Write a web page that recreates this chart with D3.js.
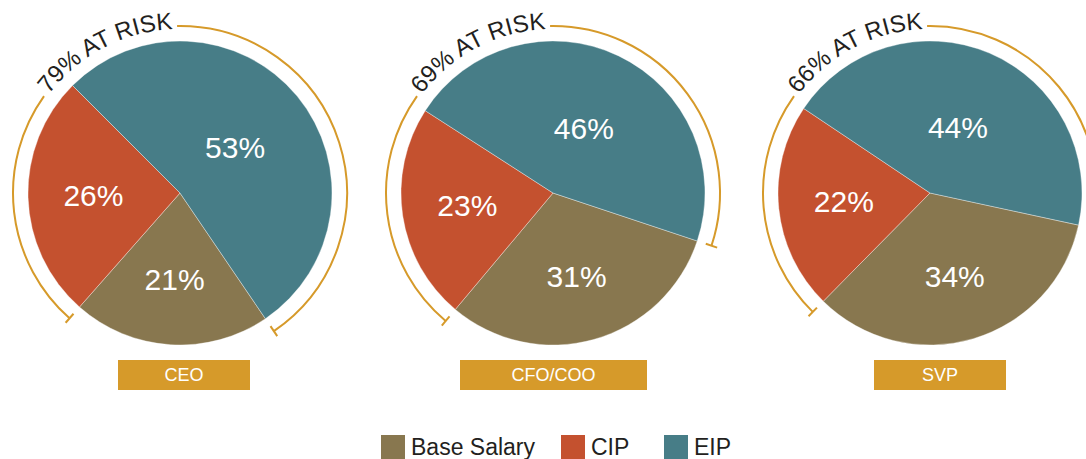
<!DOCTYPE html>
<html>
<head>
<meta charset="utf-8">
<script src="https://cdn.jsdelivr.net/npm/d3@7"></script>
<style>
  body { margin: 0; background: #fff; }
  svg { display: block; font-family: "Liberation Sans", Arial, sans-serif; }
</style>
</head>
<body>
<svg id="chart"></svg>
<script>
var roles = ['CEO', 'CFO/COO', 'SVP']
var series = ['Base Salary', 'CIP', 'EIP']
var baseSalary = [21, 31, 34]
var cip = [26, 23, 22]
var eip = [53, 46, 44]
var atRisk = [79, 69, 66]

var width = 1086, height = 459
var colors = ['#88774f', '#c4512f', '#477d87']
var gold = '#d69a2a'

// layout per pie: centre x, rotation of the base salary slice (deg), role box
var pieX = [180, 553, 930]
var pieRot = [145.8, 108.4, 102.2]
var boxX = [184, 553.5, 940]
var boxW = [132, 187, 132]
var pieY = 193, R = 152, riskR = 167, textR = 164

var svg = d3.select('#chart')
  .attr('width', width)
  .attr('height', height)

var defs = svg.append('defs')

var rad = a => a * Math.PI / 180

// open circular arc, angles in radians clockwise from 12 o'clock
function arcPath(r, a0, a1) {
  var large = (a1 - a0) > Math.PI ? 1 : 0
  return 'M' + (r * Math.sin(a0)) + ',' + (-r * Math.cos(a0)) +
    'A' + r + ',' + r + ' 0 ' + large + ' 1 ' + (r * Math.sin(a1)) + ',' + (-r * Math.cos(a1))
}

var arc = d3.arc().innerRadius(0).outerRadius(R)

roles.forEach((role, i) => {
  var values = [baseSalary[i], cip[i], eip[i]]
  var start = rad(pieRot[i])
  var pie = d3.pie().sort(null).value(d => d).startAngle(start).endAngle(start + 2 * Math.PI)
  var slices = pie(values)

  var g = svg.append('g').attr('transform', 'translate(' + pieX[i] + ',' + pieY + ')')

  g.selectAll('path.slice')
    .data(slices)
    .enter()
    .append('path')
      .attr('class', 'slice')
      .attr('d', arc)
      .style('fill', (d, j) => colors[j])
      .style('stroke', '#fff')
      .style('stroke-width', 0.6)
      .style('stroke-opacity', 0.6)

  g.selectAll('text.pct')
    .data(slices)
    .enter()
    .append('text')
      .attr('class', 'pct')
      .attr('transform', d => {
        var m = (d.startAngle + d.endAngle) / 2
        var lr = d.value > 40 ? 0.47 * R : 0.57 * R
        return 'translate(' + (lr * Math.sin(m)) + ',' + (-lr * Math.cos(m)) + ')'
      })
      .attr('text-anchor', 'middle')
      .attr('dy', '0.35em')
      .style('fill', '#fff')
      .style('font-size', '30px')
      .text(d => d.value + '%')

  // at risk arc = CIP + EIP
  var riskStart = slices[1].startAngle
  var riskEnd = slices[2].endAngle

  var textEnd = rad(357.5)
  defs.append('path')
    .attr('id', 'riskPath' + i)
    .attr('d', arcPath(textR, textEnd - rad(150), textEnd))

  var label = g.append('text')
    .style('font-size', '24px')
    .style('fill', '#231f20')
  label.append('textPath')
    .attr('href', '#riskPath' + i)
    .attr('startOffset', '100%')
    .attr('text-anchor', 'end')
    .text(atRisk[i] + '% AT RISK')

  var len = label.node().getComputedTextLength()
  var textStart = textEnd - len / textR

  var pad = rad(1.5)
  g.append('path')
    .attr('d', arcPath(riskR, riskStart, textStart - pad))
    .style('fill', 'none')
    .style('stroke', gold)
    .style('stroke-width', 2)
  g.append('path')
    .attr('d', arcPath(riskR, textEnd + pad, riskEnd))
    .style('fill', 'none')
    .style('stroke', gold)
    .style('stroke-width', 2)

  // end ticks
  g.selectAll('line.tick')
    .data([riskStart, riskEnd])
    .enter()
    .append('line')
      .attr('x1', a => (riskR - 6) * Math.sin(a))
      .attr('y1', a => -(riskR - 6) * Math.cos(a))
      .attr('x2', a => (riskR + 6) * Math.sin(a))
      .attr('y2', a => -(riskR + 6) * Math.cos(a))
      .style('stroke', gold)
      .style('stroke-width', 2)

  // role box
  svg.append('rect')
    .attr('x', boxX[i] - boxW[i] / 2)
    .attr('y', 360)
    .attr('width', boxW[i])
    .attr('height', 30)
    .style('fill', gold)
  svg.append('text')
    .attr('x', boxX[i])
    .attr('y', 375)
    .attr('dy', '0.35em')
    .attr('text-anchor', 'middle')
    .style('fill', '#fff')
    .style('font-size', '18px')
    .text(role)
})

// legend
var legX = [381, 561, 664]
var legend = svg.selectAll('g.legend')
  .data(series)
  .enter()
  .append('g')
    .attr('class', 'legend')
    .attr('transform', (d, i) => 'translate(' + legX[i] + ',435)')

legend.append('rect')
  .attr('width', 24)
  .attr('height', 24)
  .style('fill', (d, i) => colors[i])

legend.append('text')
  .attr('x', 30)
  .attr('y', 12)
  .attr('dy', '0.35em')
  .style('font-size', '23px')
  .style('fill', '#231f20')
  .text(d => d)
</script>
</body>
</html>
